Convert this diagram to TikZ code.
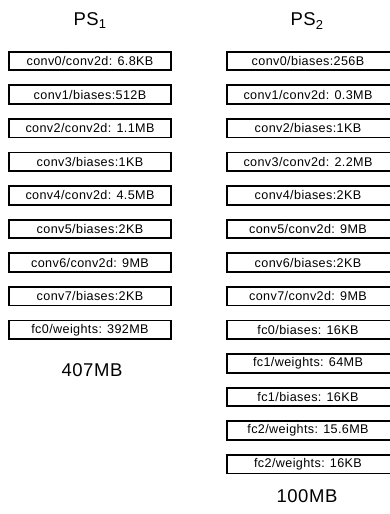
\documentclass[tikz,border=0pt]{standalone}
\usepackage{fontspec}
\setmainfont{Liberation Sans}
\newfontfamily\boxfont[LetterSpace=3]{Liberation Sans}
\newfontfamily\titlefont[LetterSpace=3]{Liberation Sans}
\begin{document}
\begin{tikzpicture}[x=1pt,y=-1pt,
  pbox/.style={draw, line width=1.8pt, minimum width=162pt, minimum height=18.5pt, inner sep=0pt,
    font=\boxfont\fontsize{12.6}{14}\selectfont},
  ttl/.style={font=\titlefont\fontsize{18.5}{21}\selectfont, inner sep=0pt}]
\useasboundingbox (0,0) rectangle (389,514);
\node[ttl] (ps1) at (90,21) {PS\textsubscript{1}};
\node[ttl] (ps2) at (307,21) {PS\textsubscript{2}};
\foreach \t [count=\i from 0] in {conv0/conv2d: 6.8KB, conv1/biases:512B, conv2/conv2d: 1.1MB, conv3/biases:1KB, conv4/conv2d: 4.5MB, conv5/biases:2KB, conv6/conv2d: 9MB, conv7/biases:2KB, fc0/weights: 392MB}
  \node[pbox] (a\i) at (90,{61+33.6*\i}) {\t};
\foreach \t [count=\i from 0] in {conv0/biases:256B, conv1/conv2d: 0.3MB, conv2/biases:1KB, conv3/conv2d: 2.2MB, conv4/biases:2KB, conv5/conv2d: 9MB, conv6/biases:2KB, conv7/conv2d: 9MB, fc0/biases: 16KB, fc1/weights: 64MB, fc1/biases: 16KB, fc2/weights: 15.6MB, fc2/weights: 16KB}
  \node[pbox, minimum width=168pt] (b\i) at (311,{61+33.6*\i}) {};
\foreach \t [count=\i from 0] in {conv0/biases:256B, conv1/conv2d: 0.3MB, conv2/biases:1KB, conv3/conv2d: 2.2MB, conv4/biases:2KB, conv5/conv2d: 9MB, conv6/biases:2KB, conv7/conv2d: 9MB, fc0/biases: 16KB, fc1/weights: 64MB, fc1/biases: 16KB, fc2/weights: 15.6MB, fc2/weights: 16KB}
  \node[font=\boxfont\fontsize{12.6}{14}\selectfont, inner sep=0pt] (bt\i) at (308,{61+33.6*\i}) {\t};
\node[ttl] (tot1) at (92,370) {407MB};
\node[ttl] (tot2) at (307,496) {100MB};
\end{tikzpicture}
\end{document}
